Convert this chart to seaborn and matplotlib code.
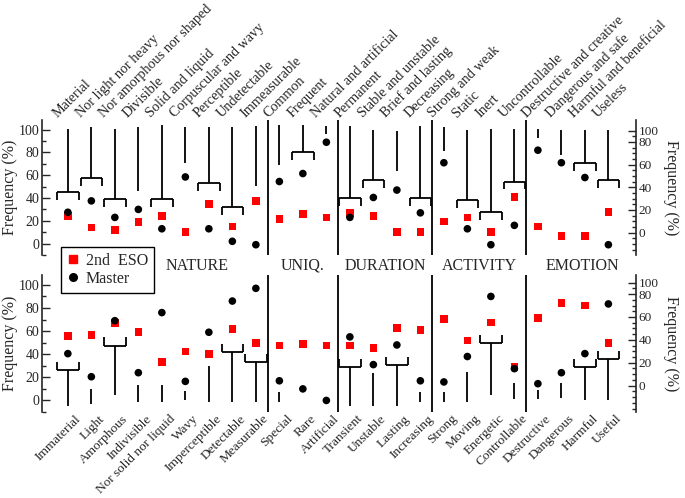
import numpy as np
import pandas as pd
import matplotlib.pyplot as plt
from matplotlib.lines import Line2D
from matplotlib.ticker import FixedLocator, MultipleLocator
import seaborn as sns

sns.set_style("white")
plt.rcParams['font.family'] = ['Liberation Serif', 'DejaVu Serif']

# ---- data ----
top_cats = ["Material", "Nor light nor heavy", "Nor amorphous nor shaped", "Divisible",
            "Solid and liquid", "Corpuscular and wavy", "Perceptible", "Undetectable",
            "Immeasurable", "Common", "Frequent", "Natural and artificial", "Permanent",
            "Stable and unstable", "Brief and lasting", "Decreasing", "Strong and weak",
            "Static", "Inert", "Uncontrollable", "Destructive and creative",
            "Dangerous and safe", "Harmful and beneficial", "Useless"]
top_eso = [24, 14, 12, 19, 24, 10, 35, 15, 37.5, 21.5, 26, 23, 27, 24, 10, 10, 19.5,
           23, 10, 41, 15, 6.5, 6.5, 28]
top_master = [27.5, 37.5, 23, 30, 13, 58.5, 13, 2, -1, 54.5, 61.5, 89, 23, 40.5, 47, 27,
              71, 13, -1, 16, 82, 71, 58, -1]
top_line_hi = [101, 102, 101, 102, 104.5, 102.5, 102.5, 102, 103, 104.5, 104.5, 103, 103,
               100, 99, 103, 102, 100, 101, 101, 100.5, 100, 100, 100]
top_line_lo = [45, 58, 39, 46.5, 39, 70.5, 53.5, 32, 50.5, 69, 80, 96, 40, 56, 64, 40, 81,
               38, 27.5, 54.5, 93, 77.5, 70.5, 56]
top_bracket = [1, 1, 1, 0, 1, 0, 1, 1, 0, 0, 1, 0, 1, 1, 0, 1, 0, 1, 1, 1, 0, 0, 1, 1]

bot_cats = ["Immaterial", "Light", "Amorphous", "Indivisible", "Nor solid nor liquid",
            "Wavy", "Imperceptible", "Detectable", "Measurable", "Special", "Rare",
            "Artificial", "Transient", "Unstable", "Lasting", "Increasing", "Strong",
            "Moving", "Energetic", "Controllable", "Destructive", "Dangerous", "Harmful",
            "Useful"]
bot_eso = [55.5, 56.5, 67, 59, 33.5, 42.5, 40, 62, 49.5, 47.5, 49, 47.5, 47.5, 45.5, 62.5,
           61, 70.5, 52, 67.5, 29, 71.5, 84.5, 82, 49.5]
bot_master = [40.5, 20.5, 69, 24, 76, 16.5, 59, 86, 97, 17, 10, 0, 55, 31, 48, 17, 16, 38,
              90, 27.5, 14.5, 24, 40.5, 83.5]
bot_line_lo = [-5, -3.5, 4.5, -1, -1, 0.5, -1, -1, -1, -1, np.nan, np.nan, -5, -5, -5, -1,
               -1, -1, 5, 1.5, 1.5, 2.5, 0, 0]
bot_line_hi = [26, 10, 47.5, 13.5, 13.5, 8, 29.5, 42, 33.5, 7, np.nan, np.nan, 29, 24, 30.5,
               7, 7, 25, 49.5, 15, 9, 15, 29, 35.5]
bot_bracket = [1, 0, 1, 0, 0, 0, 0, 1, 1, 0, 0, 0, 1, 0, 1, 0, 0, 0, 1, 0, 0, 0, 1, 1]

groups = ["NATURE", "UNIQ.", "DURATION", "ACTIVITY", "EMOTION"]
group_bounds = [8.5, 11.5, 15.5, 19.5]

# ---- figure ----
fig = plt.figure(figsize=(6.85, 4.98), dpi=100)
ax1 = fig.add_axes([0.0613, 0.488, 0.867, 0.271])
ax2 = fig.add_axes([0.0613, 0.1727, 0.867, 0.275])

palette = {"2nd  ESO": "red", "Master": "black"}
markers = {"2nd  ESO": "s", "Master": "o"}


def panel(ax, cats, eso, master, lo, hi, bracket, upper, right_ticks):
    x = np.arange(len(cats))
    df = pd.DataFrame({"x": np.concatenate([x, x]),
                       "freq": eso + master,
                       "grp": ["2nd  ESO"] * len(x) + ["Master"] * len(x)})
    ax.set_xlim(-1.1, 24.17)
    ax.set_ylim(-10, 108.5)

    # significance lines and brackets
    ax.vlines(x, lo, hi, color="black", lw=1.3)
    b = np.array(bracket) == 1
    yb = np.array(lo if upper else hi)[b]
    tick = -7 if upper else 7
    ax.hlines(yb, x[b] - 0.46, x[b] + 0.46, color="black", lw=1.3)
    ax.vlines(x[b] - 0.46, yb, yb + tick, color="black", lw=1.3)
    ax.vlines(x[b] + 0.46, yb, yb + tick, color="black", lw=1.3)

    for g in group_bounds:
        ax.axvline(g, color="black", lw=1.3)

    sns.scatterplot(data=df, x="x", y="freq", hue="grp", style="grp", palette=palette,
                    markers=markers, s=30, linewidth=0, legend=False, ax=ax, zorder=3)

    ax.set_xticks([])
    ax.set_xlabel("")
    ax.set_ylabel("Frequency (%)", fontsize=11.5, labelpad=0)
    ax.set_yticks([0, 20, 40, 60, 80, 100])
    ax.yaxis.set_minor_locator(MultipleLocator(10))
    ax.tick_params(axis="y", which="major", direction="in", length=6, width=1,
                   labelsize=10, pad=2)
    ax.tick_params(axis="y", which="minor", direction="in", length=3, width=1)
    for s in ["top", "bottom", "right"]:
        ax.spines[s].set_visible(False)
    ax.spines["left"].set_linewidth(1.2)

    # category labels
    for i, c in enumerate(cats):
        if upper:
            ax.text(i - 0.45, 110.5, c, rotation=45, rotation_mode="anchor",
                    ha="left", va="baseline", fontsize=10.2, clip_on=False)
        else:
            ax.text(i + 0.3, -10.5, c, rotation=45, rotation_mode="anchor",
                    ha="right", va="top", fontsize=9.6, clip_on=False)

    # right axis (offset scale as in original)
    tw = ax.twinx()
    tw.set_ylim(ax.get_ylim())
    zero, step = right_ticks
    pos = [zero + v * step for v in [0, 20, 40, 60, 80]] + [zero + 90 * step]
    tw.yaxis.set_major_locator(FixedLocator(pos))
    tw.set_yticklabels(["0", "20", "40", "60", "80", "100"])
    minor = [zero + v * step for v in np.arange(-25, 90, 5)]
    minor = [m for m in minor if -11 < m < 109]
    tw.yaxis.set_minor_locator(FixedLocator(minor))
    tw.tick_params(axis="y", which="major", direction="in", length=6, width=1,
                   labelsize=9.5, pad=2)
    tw.tick_params(axis="y", which="minor", direction="in", length=3, width=1)
    tw.set_ylabel("Frequency (%)", fontsize=11.5, rotation=270, va="bottom", labelpad=3)
    for s in ["top", "bottom", "left"]:
        tw.spines[s].set_visible(False)
    tw.spines["right"].set_linewidth(1.2)


panel(ax1, top_cats, top_eso, top_master, top_line_lo, top_line_hi, top_bracket,
      True, (9.6, 0.995))
panel(ax2, bot_cats, bot_eso, bot_master, bot_line_lo, bot_line_hi, bot_bracket,
      False, (12.8, 0.99))

for g, gx in zip(groups, [5.5, 10, 13.5, 17.5, 21.9]):
    ax2.text(gx, 116.5, g, ha="center", va="center", fontsize=11.5, clip_on=False)

handles = [Line2D([], [], marker="s", color="red", ls="", markersize=5.5),
           Line2D([], [], marker="o", color="black", ls="", markersize=5.5)]
leg = fig.legend(handles, ["2nd  ESO", "Master"], loc="upper left",
                 bbox_to_anchor=(0.089, 0.504), frameon=True, fancybox=False,
                 fontsize=11.5, handlelength=0.8, handletextpad=0.4, borderpad=0.35,
                 labelspacing=0.15, borderaxespad=0)
leg.get_frame().set_edgecolor("black")
leg.get_frame().set_linewidth(1)
leg.get_frame().set_alpha(1)

fig.savefig("out.png", dpi=100)
